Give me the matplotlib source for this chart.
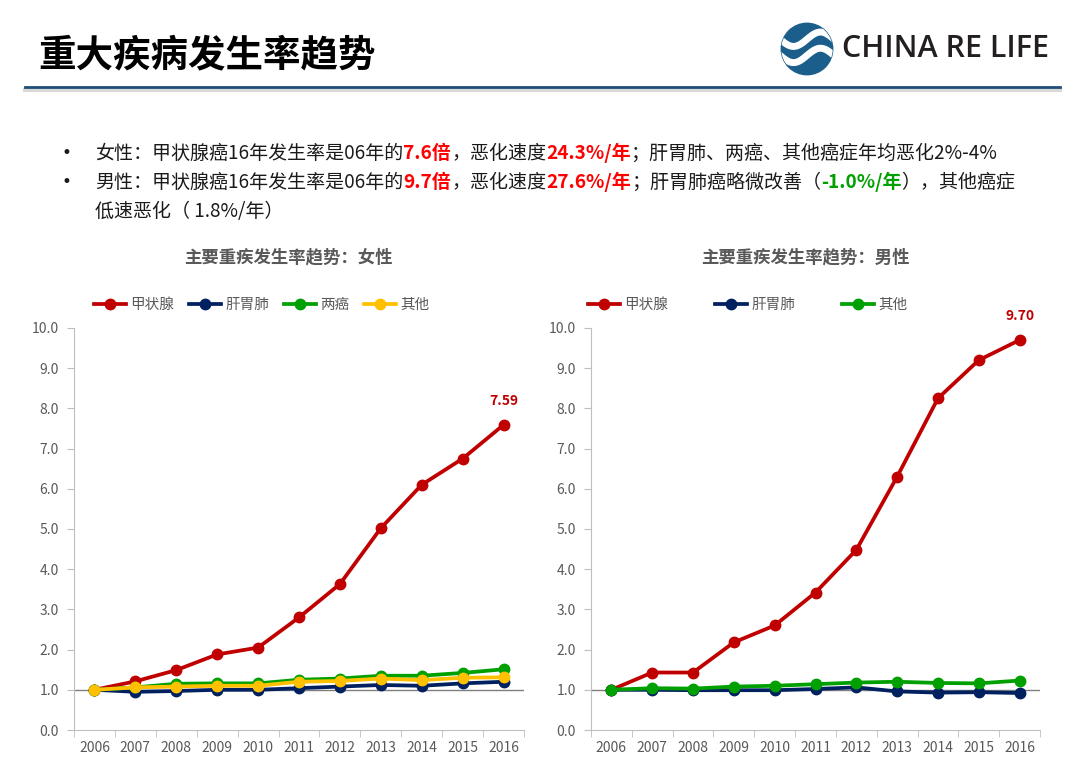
import numpy as np
import matplotlib
matplotlib.use('Agg')
import matplotlib.pyplot as plt
from matplotlib.lines import Line2D
from matplotlib.patches import Circle

plt.rcParams['font.family'] = ['Noto Sans CJK SC', 'DejaVu Sans']

years = ['2006', '2007', '2008', '2009', '2010', '2011', '2012', '2013', '2014', '2015', '2016']

# female
f_thyroid = [1.00, 1.21, 1.49, 1.88, 2.05, 2.80, 3.63, 5.02, 6.10, 6.75, 7.59]
f_liver = [1.00, 0.95, 0.97, 1.00, 1.00, 1.04, 1.08, 1.12, 1.10, 1.16, 1.20]
f_two = [1.00, 1.06, 1.15, 1.16, 1.16, 1.25, 1.28, 1.35, 1.35, 1.42, 1.51]
f_other = [1.00, 1.06, 1.08, 1.10, 1.10, 1.20, 1.22, 1.28, 1.24, 1.30, 1.31]

# male
m_thyroid = [1.00, 1.43, 1.43, 2.18, 2.60, 3.42, 4.48, 6.30, 8.25, 9.20, 9.70]
m_liver = [1.00, 1.00, 0.99, 0.99, 0.99, 1.02, 1.06, 0.96, 0.93, 0.94, 0.92]
m_other = [1.00, 1.04, 1.03, 1.08, 1.10, 1.14, 1.18, 1.20, 1.17, 1.16, 1.23]

RED = '#C00000'
NAVY = '#002060'
GREEN = '#00A000'
YELLOW = '#FFC000'
GRAY = '#595959'

fig = plt.figure(figsize=(10.8, 7.78), dpi=100)
fig.patch.set_facecolor('white')
renderer = fig.canvas.get_renderer()
W, H = 1080.0, 778.0

# header
fig.text(38 / W, 1 - 55 / H, '重大疾病发生率趋势', fontsize=27, fontweight='bold',
         color='black', va='center', ha='left')
fig.add_artist(Line2D([25 / W, 1060 / W], [1 - 90 / H, 1 - 90 / H], color='#D9D9D9', lw=3))
fig.add_artist(Line2D([25 / W, 1060 / W], [1 - 87 / H, 1 - 87 / H], color='#1F4E79', lw=2))

# logo
lax = fig.add_axes([780 / W, 1 - 76 / H, 54 / W, 54 / H])
lax.set_xlim(-1.05, 1.05)
lax.set_ylim(-1.05, 1.05)
lax.set_aspect('equal')
lax.axis('off')
circ = Circle((0, 0), 1.0, color='#1B5E8C')
lax.add_patch(circ)
t = np.linspace(-1.2, 1.2, 200)
for off in [0.38, -0.25]:
    ln, = lax.plot(t, off + 0.28 * np.sin(t * 3.0), color='white', lw=5, solid_capstyle='butt')
    ln.set_clip_path(circ)
fig.text(842 / W, 1 - 49 / H, 'CHINA RE LIFE', fontsize=22, fontweight='semibold',
         family=['Open Sans', 'DejaVu Sans'], color='#231F20', va='center', ha='left')


def rich_line(x_px, y_px, parts, size=13.7):
    x = x_px / W
    for s, color, weight in parts:
        tx = fig.text(x, 1 - y_px / H, s, color=color, fontsize=size, fontweight=weight,
                      va='baseline', ha='left')
        bb = tx.get_window_extent(renderer)
        x += bb.width / W


BLK = '#1A1A1A'
fig.text(62 / W, 1 - 153 / H, '•', fontsize=12, color=BLK, family='DejaVu Sans', va='center')
fig.text(62 / W, 1 - 182 / H, '•', fontsize=12, color=BLK, family='DejaVu Sans', va='center')
rich_line(95, 159, [('女性：甲状腺癌16年发生率是06年的', BLK, 'normal'), ('7.6倍', '#FF0000', 'bold'),
                    ('，恶化速度', BLK, 'normal'), ('24.3%/年', '#FF0000', 'bold'),
                    ('；肝胃肺、两癌、其他癌症年均恶化2%-4%', BLK, 'normal')])
rich_line(95, 188, [('男性：甲状腺癌16年发生率是06年的', BLK, 'normal'), ('9.7倍', '#FF0000', 'bold'),
                    ('，恶化速度', BLK, 'normal'), ('27.6%/年', '#FF0000', 'bold'),
                    ('；肝胃肺癌略微改善（', BLK, 'normal'), ('-1.0%/年', '#00A000', 'bold'),
                    ('），其他癌症', BLK, 'normal')])
rich_line(95, 217, [('低速恶化（ 1.8%/年）', BLK, 'normal')])


def style_axes(ax):
    x = np.arange(len(years))
    ax.set_xlim(-0.5, len(years) - 0.5)
    ax.set_ylim(0, 10)
    ax.set_yticks(np.arange(0, 10.1, 1.0))
    ax.set_yticklabels(['%.1f' % v for v in np.arange(0, 10.1, 1.0)])
    ax.set_xticks(x)
    ax.set_xticklabels(years)
    ax.set_xticks(np.arange(-0.5, len(years), 1.0), minor=True)
    ax.tick_params(axis='x', which='major', length=0, pad=8, labelsize=10, labelcolor=GRAY)
    ax.tick_params(axis='x', which='minor', length=5, color='#BFBFBF', direction='out')
    ax.tick_params(axis='y', length=5, color='#BFBFBF', labelsize=10, labelcolor=GRAY, pad=6)
    for s in ['top', 'right']:
        ax.spines[s].set_visible(False)
    for s in ['left', 'bottom']:
        ax.spines[s].set_color('#BFBFBF')
    ax.axhline(1.0, color='#7F7F7F', lw=1, zorder=1)


def plot_series(ax, vals, color, label, lw=2.7, ms=7.5):
    ax.plot(np.arange(len(years)), vals, color=color, lw=lw, marker='o', ms=ms, label=label,
            zorder=3)


# female chart
ax1 = fig.add_axes([74 / W, 1 - 730 / H, 450 / W, 402 / H])
style_axes(ax1)
plot_series(ax1, f_thyroid, RED, '甲状腺')
plot_series(ax1, f_liver, NAVY, '肝胃肺')
plot_series(ax1, f_two, GREEN, '两癌')
plot_series(ax1, f_other, YELLOW, '其他')
ax1.annotate('%.2f' % f_thyroid[-1], (10, f_thyroid[-1]), xytext=(0, 12), textcoords='offset points',
             ha='center', va='bottom', color=RED, fontsize=10, fontweight='bold')
fig.text(288 / W, 1 - 257 / H, '主要重疾发生率趋势：女性', fontsize=12.5, fontweight='bold',
         color=GRAY, ha='center', va='center')
ax1.legend(loc='center', bbox_to_anchor=(262 / W, 1 - 305 / H), bbox_transform=fig.transFigure,
           ncol=4, frameon=False, fontsize=10.5, handlelength=2.2, handletextpad=0.3,
           columnspacing=1.0, labelcolor=GRAY)

# male chart
ax2 = fig.add_axes([591 / W, 1 - 730 / H, 449 / W, 402 / H])
style_axes(ax2)
plot_series(ax2, m_thyroid, RED, '甲状腺')
plot_series(ax2, m_liver, NAVY, '肝胃肺')
plot_series(ax2, m_other, GREEN, '其他')
ax2.annotate('%.2f' % m_thyroid[-1], (10, m_thyroid[-1]), xytext=(0, 12), textcoords='offset points',
             ha='center', va='bottom', color=RED, fontsize=10, fontweight='bold', annotation_clip=False)
fig.text(805 / W, 1 - 257 / H, '主要重疾发生率趋势：男性', fontsize=12.5, fontweight='bold',
         color=GRAY, ha='center', va='center')
ax2.legend(loc='center', bbox_to_anchor=(748 / W, 1 - 305 / H), bbox_transform=fig.transFigure,
           ncol=3, frameon=False, fontsize=10.5, handlelength=2.2, handletextpad=0.3,
           columnspacing=3.2, labelcolor=GRAY)

fig.savefig('out.png', dpi=100)
